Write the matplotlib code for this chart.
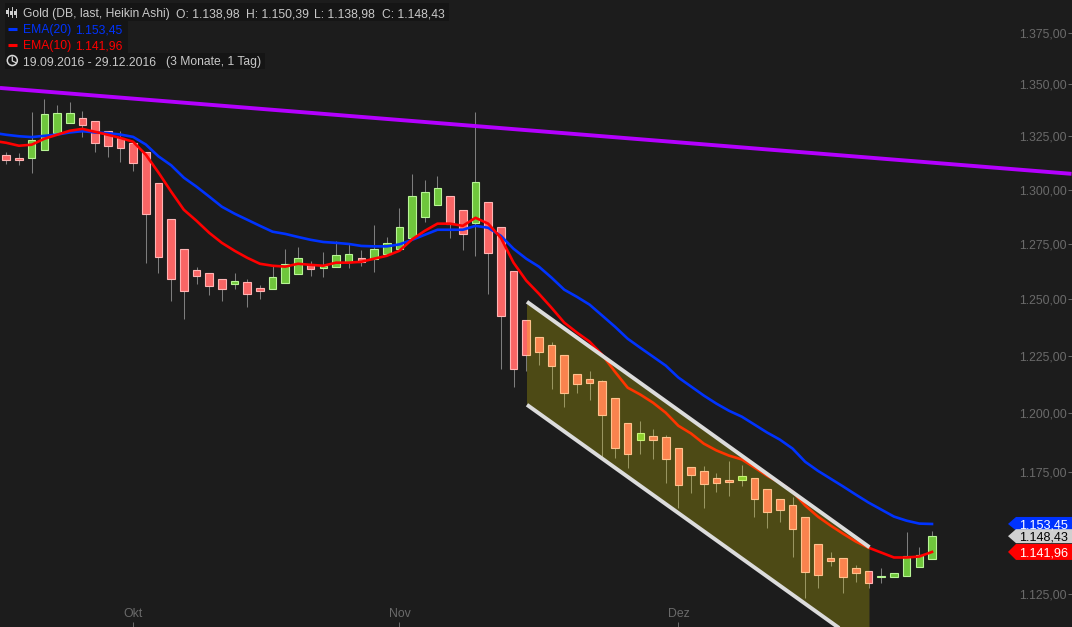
import matplotlib
matplotlib.use("Agg")
import matplotlib.pyplot as plt
from matplotlib.patches import Polygon, Rectangle, Circle
from matplotlib.ticker import FixedLocator, FuncFormatter, NullLocator, NullFormatter
from matplotlib.transforms import Affine2D, IdentityTransform

plt.rcParams['font.family'] = ['Liberation Sans', 'DejaVu Sans']

# ---- data (Heikin Ashi candles, one per trading day) ----
opens = [1316.2,1315,1314.7,1318.7,1326.7,1331.5,1333.9,1332.5,1327.7,1324.3,
         1322,1317.8,1303.3,1286.6,1272.8,1263.3,1262,1259.3,1257,1257.9,
         1255.2,1254.8,1257.5,1261.5,1265.5,1264.2,1264.7,1266.9,1268.7,1268.3,
         1270.5,1272.8,1277.8,1287.5,1293.1,1297.2,1290.7,1284.7,1294.4,1282.9,
         1262.9,1240.9,1233.4,1229.9,1225.4,1217.2,1215,1214.2,1206.8,1196,
         1188.8,1190.5,1189.7,1185.4,1177.3,1175.6,1172.7,1171.9,1171.9,1172.7,
         1168.1,1163.6,1161.5,1156.5,1145.3,1139.3,1139.3,1135.6,1134.4,1131.9,
         1131.9,1132.3,1136,1138.98]
closes = [1313.7,1314,1323.4,1335.8,1336.3,1336.3,1330.5,1322,1320.6,1319.7,
          1312.7,1288.9,1269.2,1259.3,1253.9,1260.6,1256.1,1254.8,1258.4,1252.5,
          1253.9,1260.2,1266,1268.7,1263.8,1265.1,1270,1270.5,1266.9,1272.8,
          1275.5,1282.9,1297.2,1299.1,1301,1284.3,1279.6,1303.8,1271,1242.7,
          1219,1225.4,1226.8,1220.7,1208.7,1212.8,1213.3,1199.4,1185.3,1182.9,
          1191.8,1188.8,1180.7,1169.8,1174,1170.2,1170.6,1171,1173.5,1163.6,
          1158.6,1159.4,1151.5,1133.6,1132.7,1138.4,1131.9,1133.2,1129.5,1132.3,
          1133.2,1140.5,1140.9,1148.43]
highs = [1317.8,1317.3,1336.8,1343,1340.1,1341.5,1337.2,1332.5,1327.7,1327.7,
         1322,1317.8,1303.3,1286.6,1272.8,1264.7,1262,1259.3,1262,1259.3,
         1256.6,1265.5,1272.8,1273.7,1267.4,1271.4,1276.4,1275.5,1272.3,1283.8,
         1278.2,1291.7,1307.5,1304.7,1306.6,1297.2,1290.7,1336.8,1294.4,1282.9,
         1262.9,1240.9,1233.4,1231.2,1225.4,1217.2,1218.5,1214.6,1206.8,1196,
         1196.9,1193.4,1190.9,1185.4,1177.3,1177.7,1174.8,1179.9,1178.2,1172.7,
         1168.1,1164,1164.8,1156.5,1145.3,1142.1,1139.3,1136.8,1134.4,1135.6,
         1133.2,1150.2,1144.1,1150.39]
lows = [1311.8,1311.7,1307.6,1318.7,1326.7,1331.5,1324.8,1317.8,1315.5,1313.1,
        1308.9,1266.5,1262,1249.3,1241.4,1257,1252,1249.3,1254.8,1246.7,
        1250.2,1254.8,1257.5,1261.5,1260.6,1260.2,1264.7,1264.2,1265.1,1262.4,
        1270.5,1272.8,1277.8,1285.2,1293.1,1277.8,1272.3,1269.6,1252.5,1219,
        1211.2,1218.5,1221.1,1210.7,1202.7,1208.7,1205.9,1181.6,1181.1,1176.9,
        1182.9,1180.7,1170.6,1160.2,1166.5,1160.2,1166.9,1165.2,1169.4,1156.5,
        1151.9,1154.4,1139.7,1123.4,1127.4,1136.4,1125.4,1129.9,1127.5,1129.5,
        1131.9,1132.3,1136,1138.98]
# EMA series start one day before the first visible candle
ema20 = [1326.7,1325.8,1325.1,1324.7,1325.3,1325.9,1326.9,1327.5,1326.9,1326.6,1325.9,
         1324.8,1321.2,1315.6,1311.4,1305.6,1301.4,1296.8,1292.1,1288.9,1286.1,
         1283.3,1280.6,1279.6,1278.2,1276.9,1275.9,1275.5,1275,1274.1,1273.9,
         1273.9,1274.8,1276.9,1279.2,1281.5,1281.5,1281.5,1283.3,1282.4,1278.7,
         1272.8,1268.3,1264.7,1259.7,1254.3,1251.1,1247.6,1242.7,1237.8,1232.5,
         1228.5,1224.6,1220.7,1215.5,1211.6,1207.7,1204.2,1201.1,1198.6,1195.2,
         1191.8,1188.8,1185,1179.4,1175.6,1172.3,1169,1165.6,1162.3,1159.4,
         1156.5,1154.8,1153.6,1153.45]
ema10 = [1322.9,1322,1320.6,1321.1,1323.9,1325.8,1327.7,1328.6,1327.2,1325.8,1324.3,
         1322.5,1316.4,1308,1299.1,1290.7,1285.6,1280.1,1275.5,1271.9,1268.7,
         1266,1265.1,1264.7,1266,1265.5,1265.1,1266.5,1266.5,1266.9,1268.3,
         1269.6,1271.9,1277.1,1281,1284.3,1284.3,1283.3,1287,1284.3,1277.8,
         1266.5,1258.4,1252.5,1246.2,1239.6,1235.2,1231.2,1225.4,1218,1211.1,
         1208.1,1204.6,1200.3,1194.7,1191.4,1187.1,1184.2,1182,1180.4,1177,
         1173.5,1170.6,1166.9,1161.1,1156.5,1152.8,1149.4,1146.2,1143.7,1141.7,
         1139.7,1139.7,1140.1,1141.96]
x_idx = list(range(len(opens)))
x_ema = list(range(-1, len(opens)))

month_pos = [10, 31, 53]
month_labels = ['Okt', 'Nov', 'Dez']
y_ticks = [1375, 1350, 1325, 1300, 1275, 1250, 1225, 1200, 1175, 1125]

trend_x = [-0.5, 84]
trend_y = [1348.2, 1307.4]
chan_x = [41.06, 68.07]
chan_top = [1248.9, 1143.9]
chan_bot = [1203.7, 1102.7]

tag_values = [1153.45, 1148.43, 1141.96]
tag_texts = ['1.153,45', '1.148,43', '1.141,96']
tag_colors = ['#0033ff', '#d0d0d0', '#ff0000']
tag_fg = ['white', 'black', 'white']

BG = '#1c1c1c'
W, H = 1072, 627
fig = plt.figure(figsize=(W/100, H/100), dpi=100, facecolor=BG)
ax = fig.add_axes([0, 0, 1, 1], facecolor=BG)
ax.set_yscale('log')
ax.set_xlim(-0.497, 84.04)
ax.set_ylim(1111.7, 1391.3)
for s in ax.spines.values():
    s.set_visible(False)

def de(v, _=None):
    return f"{v:,.2f}".replace(',', 'X').replace('.', ',').replace('X', '.')

ax.yaxis.set_major_locator(FixedLocator(y_ticks))
ax.yaxis.set_major_formatter(FuncFormatter(de))
ax.yaxis.set_minor_locator(NullLocator())
ax.yaxis.set_minor_formatter(NullFormatter())
ax.yaxis.tick_right()
ax.tick_params(axis='y', direction='in', length=3, width=0.7, color='#6a6a6a',
               labelcolor='#6a6a6a', labelsize=8.8, pad=-3.8)
for t in ax.get_yticklabels():
    t.set_ha('right')
ax.set_xticks(month_pos, month_labels)
ax.tick_params(axis='x', direction='in', length=3.6, width=0.7, color='#6a6a6a',
               labelcolor='#6a6a6a', labelsize=8.8, pad=-13.8)

# candles
ups = [c >= o for o, c in zip(opens, closes)]
ax.vlines(x_idx, lows, highs, color='#7d7d7d', lw=0.75, zorder=2)
ax.bar(x_idx, [abs(c - o) for o, c in zip(opens, closes)],
       bottom=[min(o, c) for o, c in zip(opens, closes)], width=0.6,
       color=['#6fc63c' if u else '#f96565' for u in ups],
       edgecolor=['#b8f596' if u else '#ffb4b4' for u in ups],
       linewidth=0.8, zorder=3)

# EMAs and trend line
ax.plot(x_ema, ema20, color='#0033ff', lw=1.9, zorder=4, solid_joinstyle='round')
ax.plot(x_ema, ema10, color='#ff0000', lw=1.9, zorder=5, solid_joinstyle='round')
ax.plot(trend_x, trend_y, color='#b400ff', lw=2.8, zorder=5, solid_capstyle='butt')

# channel overlay
ax.fill(chan_x + chan_x[::-1], chan_top + chan_bot[::-1],
        facecolor=(1, 0.95, 0), alpha=0.22, edgecolor='none', zorder=6)
ax.plot(chan_x, chan_top, color='#dcdcdc', lw=2.8, zorder=7, solid_capstyle='butt')
ax.plot(chan_x, chan_bot, color='#dcdcdc', lw=2.8, zorder=7, solid_capstyle='butt')

# price tags on the right edge
fig.canvas.draw()
tops = [7, 7, 8]
bots = [6.5, 7, 8]
for v, s, c, f, t, b in zip(tag_values, tag_texts, tag_colors, tag_fg, tops, bots):
    yc = ax.transData.transform((0, v))[1]
    pts = [(1008, yc), (1016, yc + t), (1072, yc + t), (1072, yc - b), (1016, yc - b)]
    ax.add_patch(Polygon(pts, closed=True, transform=IdentityTransform(),
                         facecolor=c, edgecolor='none', zorder=8, clip_on=False))
    ax.text(1068, yc, s, transform=IdentityTransform(), color=f, fontsize=9.1,
            ha='right', va='center_baseline', zorder=9)

# header block, in pixels from the top left
px = Affine2D().scale(1, -1).translate(0, H)
for (x0, y0, x1, y1) in [(5, 3, 449, 21), (5, 21, 128, 53), (5, 53, 265, 69)]:
    ax.add_patch(Rectangle((x0, y0), x1 - x0, y1 - y0, transform=px,
                           facecolor='#151515', edgecolor='none', zorder=10))
hdr = dict(transform=px, fontsize=8.7, va='center_baseline', ha='left', zorder=11)
ax.text(23, 13, 'Gold (DB, last, Heikin Ashi)', color='#c8c8c8', **hdr)
ax.text(176.5, 13, 'O: 1.138,98', color='#c8c8c8', **hdr)
ax.text(245.5, 13, 'H: 1.150,39', color='#c8c8c8', **hdr)
ax.text(314, 13, 'L: 1.138,98', color='#c8c8c8', **hdr)
ax.text(381.5, 13, 'C: 1.148,43', color='#c8c8c8', **hdr)
ax.text(23, 29, 'EMA(20)', color='#0033ff', **hdr)
ax.text(75, 29, '1.153,45', color='#0033ff', **hdr)
ax.text(23, 45, 'EMA(10)', color='#ff0000', **hdr)
ax.text(75, 45, '1.141,96', color='#ff0000', **hdr)
ax.text(23, 61, '19.09.2016 - 29.12.2016', color='#c8c8c8', **hdr)
ax.text(166, 61, '(3 Monate, 1 Tag)', color='#c8c8c8', **hdr)

# small legend glyphs
for y, c in [(29, '#0033ff'), (45, '#ff0000')]:
    ax.plot([7.5, 17], [y, y], transform=px, color=c, lw=2.2, zorder=11,
            solid_capstyle='butt')
ax.add_patch(Circle((12.3, 60.5), 5, transform=px, facecolor='none',
                    edgecolor='#d8d8d8', lw=1.1, zorder=11))
ax.plot([12.3, 12.3, 15.5], [57, 61, 62.5], transform=px, color='#d8d8d8',
        lw=0.9, zorder=11)
for x0, yt, yb, y0, y1 in [(7.5, 8, 16, 10, 14), (11.5, 7, 17, 11, 15), (15.5, 9, 17, 11, 15)]:
    ax.plot([x0, x0], [yt, yb], transform=px, color='#d0d0d0', lw=0.7, zorder=11)
    ax.add_patch(Rectangle((x0 - 1.2, y0), 2.4, y1 - y0, transform=px,
                           facecolor='#d0d0d0', edgecolor='none', zorder=11))

fig.savefig('out.png', dpi=100, facecolor=BG)
